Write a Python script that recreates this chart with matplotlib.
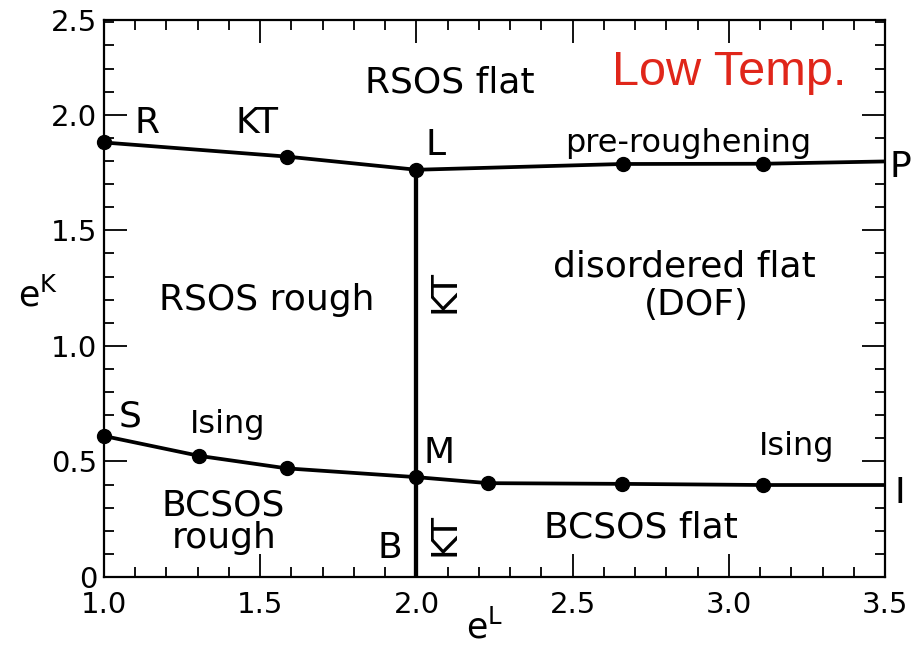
import numpy as np
import matplotlib.pyplot as plt
from matplotlib.ticker import MultipleLocator

plt.rcParams['font.family'] = 'DejaVu Sans'
plt.rcParams['mathtext.fontset'] = 'dejavusans'

# upper phase boundary: R - KT - L - pre-roughening - P
upper_x = [1.0, 1.585, 2.0, 2.661, 3.109, 3.5]
upper_y = [1.880, 1.819, 1.762, 1.787, 1.788, 1.798]

# lower phase boundary: S - Ising - M - Ising - I
lower_x = [1.0, 1.305, 1.585, 2.0, 2.230, 2.657, 3.108, 3.5]
lower_y = [0.610, 0.524, 0.470, 0.432, 0.406, 0.403, 0.398, 0.398]

# vertical KT line B - M - L
vert_x = [2.0, 2.0]
vert_y = [0.0, 1.762]

xticks = [1.0, 1.5, 2.0, 2.5, 3.0, 3.5]
xticklabels = ['1.0', '1.5', '2.0', '2.5', '3.0', '3.5']
# the frame of the original stops at ~2.41 but is labelled 2.5
yticks = [0.0, 0.5, 1.0, 1.5, 2.0, 2.41]
yticklabels = ['0', '0.5', '1.0', '1.5', '2.0', '2.5']

fig = plt.figure(figsize=(9.22, 6.47), dpi=100)
ax = fig.add_axes([0.1128, 0.1082, 0.8472, 0.8609])

lw = 2.7
ax.plot(upper_x, upper_y, color='black', lw=lw, solid_capstyle='butt', zorder=3)
ax.plot(upper_x[:-1], upper_y[:-1], 'o', color='black', ms=10, zorder=4, clip_on=False)
ax.plot(lower_x, lower_y, color='black', lw=lw, solid_capstyle='butt', zorder=3)
ax.plot(lower_x[:-1], lower_y[:-1], 'o', color='black', ms=10, zorder=4, clip_on=False)
ax.plot(vert_x, vert_y, color='black', lw=lw + 0.4, solid_capstyle='butt', zorder=3)

ax.set_xlim(1.0, 3.5)
ax.set_ylim(0.0, 2.41)
ax.set_xticks(xticks)
ax.set_xticklabels(xticklabels)
ax.set_yticks(yticks)
ax.set_yticklabels(yticklabels)
ax.xaxis.set_minor_locator(MultipleLocator(0.1))
ax.yaxis.set_minor_locator(MultipleLocator(0.1))
ax.tick_params(which='both', direction='in', top=True, right=True, width=1.3)
ax.tick_params(which='major', length=16.5, labelsize=21)
ax.tick_params(which='minor', length=7)
ax.tick_params(axis='x', pad=10)
ax.tick_params(axis='y', pad=5)
for s in ax.spines.values():
    s.set_linewidth(1.6)

big = 26
small = 23
# labels on the boundaries
ax.text(1.138, 1.922, 'R', fontsize=big, ha='center', va='baseline')
ax.text(1.490, 1.922, 'KT', fontsize=big, ha='center', va='baseline')
ax.text(2.060, 1.827, 'L', fontsize=big, ha='center', va='baseline')
ax.text(2.869, 1.840, 'pre-roughening', fontsize=small, ha='center', va='baseline')
ax.text(3.548, 1.732, 'P', fontsize=big, ha='center', va='baseline', clip_on=False)
ax.text(1.083, 0.649, 'S', fontsize=big, ha='center', va='baseline')
ax.text(1.397, 0.623, 'Ising', fontsize=small, ha='center', va='baseline')
ax.text(2.072, 0.494, 'M', fontsize=big, ha='center', va='baseline')
ax.text(3.218, 0.528, 'Ising', fontsize=small, ha='center', va='baseline')
ax.text(3.548, 0.320, 'I', fontsize=big, ha='center', va='baseline', clip_on=False)
ax.text(1.915, 0.082, 'B', fontsize=big, ha='center', va='baseline')
ax.text(2.090, 1.234, 'KT', fontsize=big, ha='center', va='center', rotation=90)
ax.text(2.090, 0.186, 'KT', fontsize=big, ha='center', va='center', rotation=90)

# phase names
ax.text(2.108, 2.095, 'RSOS flat', fontsize=big, ha='center', va='baseline')
ax.text(1.522, 1.156, 'RSOS rough', fontsize=big, ha='center', va='baseline')
ax.text(2.857, 1.299, 'disordered flat', fontsize=big, ha='center', va='baseline')
ax.text(2.895, 1.134, '(DOF)', fontsize=big, ha='center', va='baseline')
ax.text(1.381, 0.268, 'BCSOS', fontsize=big, ha='center', va='baseline')
ax.text(1.384, 0.124, 'rough', fontsize=big, ha='center', va='baseline')
ax.text(2.719, 0.169, 'BCSOS flat', fontsize=big, ha='center', va='baseline')

ax.text(3.0, 2.130, 'Low Temp.', fontsize=35, color='#e0261a',
        family='Liberation Sans', ha='center', va='baseline')

# axis labels
fig.text(38 / 922, 1 - 295 / 647, r'$\mathrm{e}^{\mathrm{K}}$', fontsize=25,
         ha='center', va='center')
fig.text(485 / 922, 1 - 627 / 647, r'$\mathrm{e}^{\mathrm{L}}$', fontsize=25,
         ha='center', va='center')

fig.savefig('out.png', dpi=100)
